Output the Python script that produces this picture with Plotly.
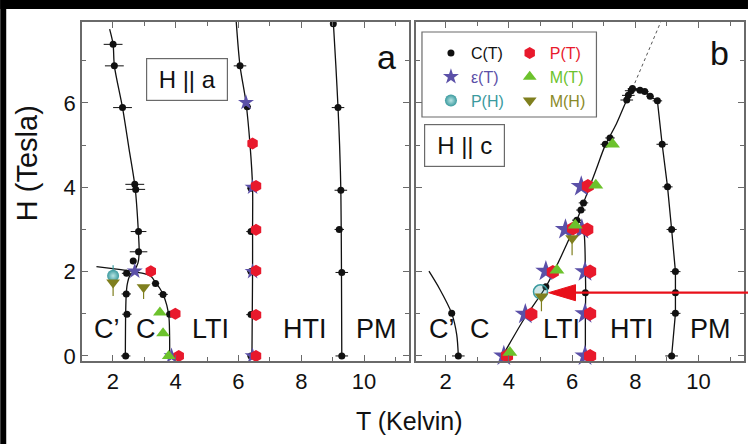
import plotly.graph_objects as go

FONT = "Liberation Sans, Arial, sans-serif"

# ---------------- data: panel a (H || a) ----------------
a_C_T = [2.01, 2.05, 2.31, 2.70, 2.73, 2.82, 2.82, 2.65, 2.44, 2.43, 2.45, 2.41,
         3.36, 3.60, 3.81, 6.05, 6.28, 6.40, 6.40, 6.40, 6.40, 6.40,
         9.02, 9.17, 9.26, 9.21, 9.29, 9.29]
a_C_H = [7.39, 6.88, 5.89, 4.07, 3.95, 2.95, 2.47, 2.25, 1.96, 1.47, 0.99, 0.0,
         1.72, 1.46, 0.99, 6.88, 5.91, 3.98, 2.95, 2.00, 0.98, 0.0,
         7.88, 5.89, 3.93, 3.00, 1.98, 0.0]
a_C_err = [0.30, 0.30, 0.30, 0.30, 0.30, 0.25, 0.28, 0.10, 0.15, 0.15, 0.15, 0.15,
           0.12, 0.15, 0.12, 0.20, 0.12, 0.12, 0.15, 0.12, 0.15, 0.12,
           0.05, 0.20, 0.20, 0.15, 0.20, 0.20]
a_eps_T = [2.70, 3.87, 6.24, 6.45, 6.45, 6.45]
a_eps_H = [2.01, 0.0, 6.01, 4.00, 2.00, 0.0]
a_PT_T = [3.21, 3.99, 4.10, 6.45, 6.56, 6.56, 6.56, 6.56, 6.56]
a_PT_H = [2.01, 1.00, 0.0, 5.04, 4.03, 2.99, 2.02, 0.97, 0.0]
a_MT_T = [3.50, 3.60, 3.78]
a_MT_H = [1.03, 0.54, 0.0]
a_PH_T = [2.01]
a_PH_H = [1.90]
a_PH_err = [0.25]
a_MH_T = [2.01, 2.98]
a_MH_H = [1.74, 1.63]
a_MH_errminus = [0.32, 0.28]

# phase boundaries, panel a
a_line1_T = [1.90, 2.01, 2.05, 2.31, 2.52, 2.71, 2.81, 2.84, 2.80, 2.68, 2.54, 2.46, 2.43, 2.41, 2.40]
a_line1_H = [7.75, 7.39, 6.88, 5.89, 4.90, 4.00, 3.00, 2.45, 2.20, 2.02, 1.90, 1.70, 1.49, 1.01, 0.0]
a_line2_T = [1.48, 2.00, 2.50, 3.00, 3.23, 3.36, 3.50, 3.60, 3.72, 3.79, 3.81, 3.81]
a_line2_H = [2.12, 2.07, 2.02, 1.95, 1.88, 1.74, 1.60, 1.46, 1.20, 0.90, 0.40, 0.0]
a_line3_T = [5.93, 6.05, 6.24, 6.37, 6.45, 6.45, 6.45, 6.44, 6.43]
a_line3_H = [7.92, 6.88, 6.01, 5.00, 4.00, 3.00, 2.00, 1.00, 0.0]
a_line4_T = [9.02, 9.10, 9.17, 9.22, 9.26, 9.28, 9.29]
a_line4_H = [7.92, 6.90, 5.89, 5.00, 3.93, 2.00, 0.0]

# ---------------- data: panel b (H || c) ----------------
b_C_T = [5.17, 6.15, 6.28, 6.36, 7.05, 7.20, 7.73, 7.78, 7.87, 7.91,
         8.15, 8.30, 8.47, 8.70, 8.85, 9.02, 9.15, 9.27, 9.27, 9.27, 9.15,
         6.42, 2.19, 2.40]
b_C_H = [1.64, 3.22, 3.46, 3.63, 5.02, 5.17, 6.07, 6.18, 6.29, 6.34,
         6.30, 6.27, 6.16, 6.05, 5.02, 4.01, 3.00, 2.00, 1.50, 1.01, 0.0,
         1.50, 1.01, 0.0]
b_C_err = [0.05, 0.15, 0.15, 0.15, 0.15, 0.15, 0.20, 0.20, 0.20, 0.15,
           0.10, 0.12, 0.12, 0.15, 0.18, 0.16, 0.16, 0.16, 0.05, 0.16, 0.20,
           0.05, 0.05, 0.20]
b_eps_T = [3.84, 4.52, 5.17, 5.79, 6.29, 6.41, 6.41, 6.41, 6.31]
b_eps_H = [0.0, 0.99, 2.01, 3.00, 4.02, 0.0, 1.00, 2.00, 3.00]
b_PT_T = [3.94, 4.71, 5.39, 6.03, 6.50, 6.57, 6.57, 6.57, 6.48]
b_PT_H = [0.0, 0.99, 1.99, 3.02, 4.03, 0.0, 1.00, 2.00, 3.00]
b_MT_T = [4.03, 5.52, 6.10, 6.75, 7.28]
b_MT_H = [0.08, 2.03, 3.10, 4.05, 5.02]
b_PH_T = [5.00]
b_PH_H = [1.52]
b_MH_T = [5.03, 6.00]
b_MH_H = [1.41, 2.79]
b_MH_errminus = [0.35, 0.40]

# phase boundaries, panel b
b_line1_T = [3.80, 4.50, 5.17, 5.80, 6.15, 6.36, 6.75, 7.05, 7.40, 7.73, 7.91]
b_line1_H = [0.0, 0.90, 1.64, 2.60, 3.22, 3.63, 4.40, 5.00, 5.50, 6.07, 6.34]
b_dot_T = [7.91, 8.85]
b_dot_H = [6.34, 8.00]
b_line2_T = [6.42, 6.42, 6.43, 6.42, 6.38, 6.28, 6.15]
b_line2_H = [0.0, 1.00, 1.50, 2.00, 2.90, 3.15, 3.22]
b_line3_T = [7.91, 8.15, 8.30, 8.47, 8.70, 8.85, 9.02, 9.15, 9.27, 9.27, 9.27, 9.15]
b_line3_H = [6.34, 6.30, 6.27, 6.16, 6.05, 5.02, 4.01, 3.00, 2.00, 1.50, 1.01, 0.0]
b_line4_T = [1.47, 1.80, 2.19, 2.35, 2.40]
b_line4_H = [2.01, 1.60, 1.01, 0.50, 0.0]

arrow_H = 1.5

region_labels = ["C’", "C", "LTI", "HTI", "PM"]
a_region_T = [1.83, 3.05, 5.11, 8.13, 10.41]
b_region_T = [1.88, 3.08, 5.67, 7.91, 10.37]
region_H = 0.64

# ---------------- styling ----------------
BLACK = "#111111"
RED = "#e8192c"
STAR = "#5b50a8"
GREEN = "#6cc22c"
OLIVE = "#7f7f1e"
TEAL = "#3a9a9e"

W, H = 750, 444
ML, MR, MT, MB = 82, 4, 22, 83
PW = W - ML - MR
PH = H - MT - MB


def px(xp):
    return (xp - ML) / PW


def py(yp):
    return (H - MB - yp) / PH


fig = go.Figure()


def add_line(T, Hv, xa, ya, shape="spline", dash="solid", width=1.3, color=BLACK):
    fig.add_trace(go.Scatter(x=T, y=Hv, mode="lines", xaxis=xa, yaxis=ya,
                             line=dict(color=color, width=width, shape=shape, dash=dash,
                                       smoothing=0.8),
                             showlegend=False, hoverinfo="skip"))


# lines
add_line(a_line1_T, a_line1_H, "x", "y")
add_line(a_line2_T, a_line2_H, "x", "y")
add_line(a_line3_T, a_line3_H, "x", "y")
add_line(a_line4_T, a_line4_H, "x", "y")
add_line(b_line1_T, b_line1_H, "x2", "y2", shape="spline")
add_line(b_dot_T, b_dot_H, "x2", "y2", shape="linear", dash="dot", width=1, color="#555")
add_line(b_line2_T, b_line2_H, "x2", "y2")
add_line(b_line3_T, b_line3_H, "x2", "y2", shape="linear")
add_line(b_line4_T, b_line4_H, "x2", "y2")


def pts(T, Hv, xa, ya, name, legend, show, marker, error_x=None, error_y=None):
    fig.add_trace(go.Scatter(x=T, y=Hv, mode="markers", xaxis=xa, yaxis=ya,
                             name=name, legend=legend, showlegend=show,
                             marker=marker, error_x=error_x, error_y=error_y,
                             cliponaxis=False))


# C(T)
pts(a_C_T, a_C_H, "x", "y", "C(T)", "legend", False,
    dict(color=BLACK, size=7, symbol="circle"),
    error_x=dict(type="data", array=a_C_err, color=BLACK, thickness=1, width=0))
pts(b_C_T, b_C_H, "x2", "y2", "C(T)", "legend", True,
    dict(color=BLACK, size=7, symbol="circle"),
    error_x=dict(type="data", array=b_C_err, color=BLACK, thickness=1, width=0))
# eps(T)
pts(a_eps_T, a_eps_H, "x", "y", '<span style="color:#5b50a8">ε(T)</span>', "legend", True,
    dict(color=STAR, size=12, symbol="star"))
pts(b_eps_T, b_eps_H, "x2", "y2", "ε(T)", "legend", False,
    dict(color=STAR, size=16, symbol="star"))
# P(H)
pts(a_PH_T, a_PH_H, "x", "y", '<span style="color:#3a9a9e">P(H)</span>', "legend", True,
    dict(color=TEAL, size=12, symbol="circle",
         gradient=dict(type="radial", color="#b8e4e4")),
    error_y=dict(type="data", array=a_PH_err, color=TEAL, thickness=1.2, width=0))
pts(b_PH_T, b_PH_H, "x2", "y2", "P(H)", "legend", False,
    dict(color="rgba(58,154,158,0.25)", size=14, symbol="circle",
         line=dict(color=TEAL, width=1.5)))
# P(T)
pts(a_PT_T, a_PT_H, "x", "y", '<span style="color:#e8192c">P(T)</span>', "legend2", True,
    dict(color=RED, size=12, symbol="hexagon"))
pts(b_PT_T, b_PT_H, "x2", "y2", "P(T)", "legend2", False,
    dict(color=RED, size=14, symbol="hexagon"))
# M(T)
pts(a_MT_T, a_MT_H, "x", "y", '<span style="color:#6cc22c">M(T)</span>', "legend2", True,
    dict(color=GREEN, size=12, symbol="triangle-up"))
pts(b_MT_T, b_MT_H, "x2", "y2", "M(T)", "legend2", False,
    dict(color=GREEN, size=13, symbol="triangle-up"))
# M(H)
pts(a_MH_T, a_MH_H, "x", "y", '<span style="color:#8a8a28">M(H)</span>', "legend2", True,
    dict(color=OLIVE, size=12, symbol="triangle-down"),
    error_y=dict(type="data", symmetric=False, array=[0, 0], arrayminus=a_MH_errminus,
                 color=OLIVE, thickness=1.2, width=0))
pts(b_MH_T, b_MH_H, "x2", "y2", "M(H)", "legend2", False,
    dict(color=OLIVE, size=12, symbol="triangle-down"),
    error_y=dict(type="data", symmetric=False, array=[0, 0], arrayminus=b_MH_errminus,
                 color=OLIVE, thickness=1.2, width=0))

AX = dict(showline=True, linecolor="#6a6a6a", linewidth=1.5, mirror="ticks",
          ticks="inside", ticklen=6, tickwidth=1.2, tickcolor="#6a6a6a",
          showgrid=False, zeroline=False,
          tickfont=dict(family=FONT, size=22, color="#111"),
          minor=dict(ticks="inside", ticklen=4, tickwidth=1.2, tickcolor="#6a6a6a",
                     dtick=1, showgrid=False))

LEGFONT = dict(family=FONT, size=16, color="#111")
fig.update_layout(
    width=W, height=H,
    margin=dict(l=ML, r=MR, t=MT, b=MB),
    paper_bgcolor="white", plot_bgcolor="white",
    font=dict(family=FONT, color="#111"),
    xaxis=dict(AX, domain=[0, px(410)], range=[1.02, 11.43], tickvals=[2, 4, 6, 8, 10],
               anchor="y"),
    yaxis=dict(AX, domain=[0, 1], range=[-0.12, 7.92], tickvals=[0, 2, 4, 6],
               anchor="x"),
    xaxis2=dict(AX, domain=[px(417), 1], range=[1.06, 11.44], tickvals=[2, 4, 6, 8, 10],
                anchor="y2"),
    yaxis2=dict(AX, domain=[0, 1], range=[-0.12, 7.92], tickvals=[0, 2, 4, 6],
                anchor="x2", showticklabels=False),
    legend=dict(x=px(432), y=py(36), xanchor="left", yanchor="top",
                bgcolor="rgba(0,0,0,0)", borderwidth=0, itemwidth=30,
                font=LEGFONT, tracegroupgap=0),
    legend2=dict(x=px(511), y=py(36), xanchor="left", yanchor="top",
                 bgcolor="rgba(0,0,0,0)", borderwidth=0, itemwidth=30,
                 font=LEGFONT, tracegroupgap=0),
)

shapes = [
    # black frame bands of the original picture
    dict(type="rect", xref="paper", yref="paper", x0=px(0), x1=px(W), y0=py(9), y1=py(0),
         fillcolor="black", line=dict(width=0), layer="above"),
    dict(type="rect", xref="paper", yref="paper", x0=px(0), x1=px(6), y0=py(H), y1=py(0),
         fillcolor="black", line=dict(width=0), layer="above"),
    # legend box
    dict(type="rect", xref="paper", yref="paper", x0=px(423), x1=px(598), y0=py(117),
         y1=py(32), fillcolor="white", line=dict(color="#6a6a6a", width=1.2), layer="above"),
    # red arrow shaft
    dict(type="line", xref="paper", yref="y2", x0=px(574), x1=px(W), y0=arrow_H, y1=arrow_H,
         line=dict(color="#e8101a", width=2.2), layer="above"),
    # red arrow head
    dict(type="path", xref="paper", yref="y2",
         path=f"M{px(550)},{arrow_H} L{px(577)},{arrow_H + 0.19} L{px(577)},{arrow_H - 0.19} Z",
         fillcolor="#e8101a", line=dict(color="#e8101a", width=1), layer="above"),
]
fig.update_layout(shapes=shapes)

C = dict(xanchor="center", yanchor="middle", showarrow=False)
ann = []
for lab, t in zip(region_labels, a_region_T):
    ann.append(dict(C, x=t, y=region_H, xref="x", yref="y", text=lab,
                    font=dict(family=FONT, size=27, color="#111")))
for lab, t in zip(region_labels, b_region_T):
    ann.append(dict(C, x=t, y=region_H, xref="x2", yref="y2", text=lab,
                    font=dict(family=FONT, size=27, color="#111")))
ann += [
    dict(C, x=10.70, y=7.09, xref="x", yref="y", text="a",
         font=dict(family=FONT, size=34, color="#111")),
    dict(C, x=10.68, y=7.18, xref="x2", yref="y2", text="b",
         font=dict(family=FONT, size=34, color="#111")),
    dict(C, x=4.37, y=6.56, xref="x", yref="y", text="H || a",
         font=dict(family=FONT, size=24, color="#111"), bordercolor="#6a6a6a",
         borderwidth=1.2, borderpad=1, width=78, height=39, bgcolor="white"),
    dict(C, x=2.58, y=4.98, xref="x2", yref="y2", text="H || c",
         font=dict(family=FONT, size=24, color="#111"), bordercolor="#6a6a6a",
         borderwidth=1.2, borderpad=1, width=77, height=39, bgcolor="white"),
    dict(C, x=px(27), y=py(163), xref="paper", yref="paper", text="H (Tesla)",
         textangle=-90, font=dict(family=FONT, size=29, color="#111")),
    dict(C, x=px(410), y=py(421), xref="paper", yref="paper", text="T (Kelvin)",
         font=dict(family=FONT, size=25, color="#111")),
]
fig.update_layout(annotations=ann)

fig.write_html("out.html",
               config={"displayModeBar": False},
               post_script="document.body.style.margin='0';"
                           "document.body.style.overflow='hidden';")
